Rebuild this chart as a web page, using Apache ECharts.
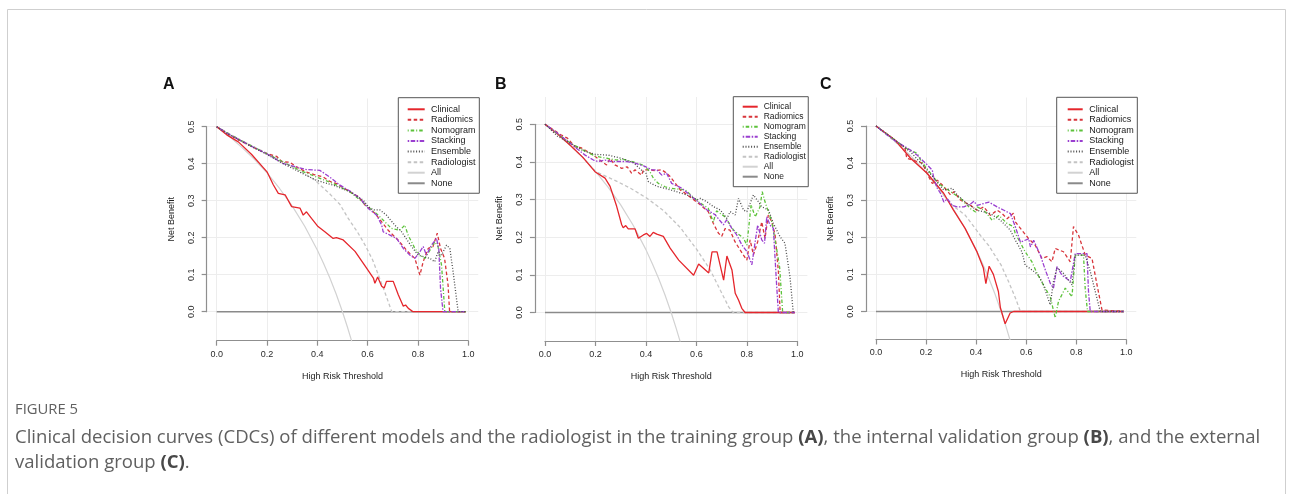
<!DOCTYPE html>
<html><head><meta charset="utf-8">
<script src="https://cdn.jsdelivr.net/npm/echarts@6/dist/echarts.min.js"></script>
<style>html,body{margin:0;padding:0;background:#fff;}#c{width:1293px;height:494px;}</style>
</head><body><div id="c"></div>
<script>
// ---------------- DATA ----------------
const seriesNames = ['Clinical','Radiomics','Nomogram','Stacking','Ensemble','Radiologist','All','None'];
const panelLabels = ['A','B','C'];
const xTickLabels = ['0.0','0.2','0.4','0.6','0.8','1.0'];
const yTickLabels = ['0.0','0.1','0.2','0.3','0.4','0.5'];
const xTitle = 'High Risk Threshold';
const yTitle = 'Net Benefit';

// shared reference curves
const allCurve = [[0,0.5],[0.05,0.474],[0.1,0.444],[0.15,0.412],[0.2,0.375],[0.25,0.333],[0.3,0.286],[0.35,0.231],[0.4,0.167],[0.425,0.13],[0.45,0.091],[0.475,0.048],[0.5,0],[0.52,-0.042],[0.54,-0.087]];
const noneCurve = [[0,0],[0.99,0]];

// Panel A (training)
const A_clinical = [[0,0.5],[0.04,0.478],[0.086,0.459],[0.139,0.425],[0.2,0.378],[0.225,0.343],[0.245,0.32],[0.272,0.316],[0.298,0.284],[0.331,0.28],[0.344,0.261],[0.357,0.27],[0.377,0.252],[0.403,0.23],[0.43,0.216],[0.463,0.198],[0.476,0.2],[0.503,0.194],[0.55,0.163],[0.596,0.118],[0.623,0.091],[0.629,0.077],[0.64,0.094],[0.656,0.069],[0.666,0.064],[0.675,0.082],[0.702,0.082],[0.722,0.046],[0.742,0.015],[0.751,0.018],[0.762,0.009],[0.781,0],[0.99,0]];
const A_radiomics = [[0,0.5],[0.05,0.478],[0.1,0.46],[0.15,0.443],[0.2,0.427],[0.238,0.42],[0.26,0.405],[0.291,0.404],[0.32,0.39],[0.358,0.377],[0.39,0.37],[0.424,0.364],[0.45,0.352],[0.477,0.346],[0.53,0.324],[0.55,0.316],[0.563,0.311],[0.57,0.315],[0.59,0.288],[0.629,0.266],[0.656,0.243],[0.682,0.22],[0.722,0.193],[0.755,0.166],[0.788,0.144],[0.808,0.099],[0.821,0.135],[0.841,0.171],[0.86,0.176],[0.877,0.212],[0.89,0.171],[0.906,0.144],[0.92,0.072],[0.926,0],[0.99,0]];
const A_nomogram = [[0,0.5],[0.05,0.48],[0.1,0.462],[0.15,0.444],[0.2,0.427],[0.265,0.404],[0.331,0.382],[0.397,0.364],[0.464,0.346],[0.53,0.324],[0.59,0.29],[0.642,0.261],[0.695,0.225],[0.728,0.22],[0.748,0.234],[0.761,0.207],[0.788,0.171],[0.808,0.153],[0.828,0.144],[0.848,0.166],[0.867,0.189],[0.88,0.176],[0.894,0.126],[0.907,0],[0.99,0]];
const A_stacking = [[0,0.5],[0.05,0.479],[0.1,0.461],[0.15,0.443],[0.199,0.427],[0.265,0.4],[0.318,0.391],[0.358,0.384],[0.41,0.382],[0.43,0.373],[0.457,0.36],[0.49,0.342],[0.53,0.326],[0.57,0.306],[0.603,0.279],[0.636,0.261],[0.656,0.234],[0.662,0.216],[0.689,0.207],[0.715,0.198],[0.742,0.171],[0.768,0.153],[0.788,0.144],[0.808,0.162],[0.821,0.176],[0.834,0.153],[0.854,0.18],[0.874,0.198],[0.883,0.171],[0.89,0.063],[0.9,0],[0.99,0]];
const A_ensemble = [[0,0.5],[0.05,0.478],[0.1,0.46],[0.15,0.442],[0.2,0.425],[0.265,0.4],[0.331,0.377],[0.397,0.355],[0.464,0.342],[0.53,0.324],[0.583,0.301],[0.603,0.284],[0.623,0.275],[0.649,0.275],[0.675,0.261],[0.708,0.234],[0.735,0.216],[0.775,0.176],[0.801,0.153],[0.828,0.148],[0.848,0.144],[0.867,0.135],[0.88,0.162],[0.894,0.153],[0.914,0.18],[0.927,0.171],[0.94,0.108],[0.96,0],[0.99,0]];
const A_radiologist = [[0,0.5],[0.1,0.462],[0.2,0.428],[0.29,0.396],[0.39,0.356],[0.45,0.318],[0.49,0.29],[0.523,0.252],[0.56,0.215],[0.59,0.18],[0.62,0.14],[0.643,0.099],[0.67,0.05],[0.696,0],[0.99,0]];

// Panel B (internal validation)
const B_clinical = [[0,0.5],[0.05,0.474],[0.1,0.444],[0.15,0.412],[0.198,0.374],[0.238,0.357],[0.258,0.335],[0.284,0.282],[0.304,0.233],[0.31,0.225],[0.32,0.231],[0.33,0.222],[0.357,0.222],[0.37,0.197],[0.39,0.206],[0.403,0.21],[0.416,0.202],[0.429,0.213],[0.443,0.208],[0.449,0.213],[0.469,0.202],[0.496,0.171],[0.53,0.139],[0.589,0.099],[0.609,0.129],[0.649,0.105],[0.662,0.161],[0.682,0.161],[0.708,0.086],[0.721,0.15],[0.741,0.113],[0.754,0.051],[0.767,0.033],[0.78,0.011],[0.793,0],[0.99,0]];
const B_radiomics = [[0,0.5],[0.063,0.472],[0.089,0.463],[0.119,0.44],[0.142,0.438],[0.192,0.418],[0.225,0.401],[0.244,0.392],[0.258,0.409],[0.277,0.392],[0.304,0.383],[0.326,0.387],[0.343,0.37],[0.357,0.379],[0.383,0.365],[0.39,0.379],[0.416,0.379],[0.436,0.377],[0.463,0.379],[0.482,0.37],[0.496,0.361],[0.537,0.325],[0.555,0.317],[0.608,0.29],[0.647,0.268],[0.667,0.237],[0.687,0.211],[0.7,0.202],[0.714,0.223],[0.733,0.219],[0.753,0.188],[0.786,0.153],[0.8,0.139],[0.813,0.193],[0.826,0.153],[0.843,0.188],[0.859,0.241],[0.872,0.197],[0.885,0.259],[0.899,0.241],[0.912,0.206],[0.925,0.109],[0.932,0],[0.99,0]];
const B_nomogram = [[0,0.5],[0.05,0.475],[0.1,0.45],[0.15,0.432],[0.2,0.415],[0.25,0.409],[0.284,0.405],[0.311,0.407],[0.35,0.4],[0.39,0.391],[0.416,0.374],[0.43,0.356],[0.449,0.343],[0.476,0.334],[0.496,0.33],[0.555,0.326],[0.608,0.294],[0.647,0.277],[0.667,0.24],[0.68,0.27],[0.714,0.254],[0.747,0.219],[0.787,0.197],[0.8,0.179],[0.817,0.286],[0.833,0.254],[0.852,0.28],[0.861,0.321],[0.872,0.294],[0.899,0.241],[0.918,0.17],[0.93,0.12],[0.942,0],[0.99,0]];
const B_stacking = [[0,0.5],[0.05,0.476],[0.092,0.454],[0.132,0.432],[0.159,0.418],[0.192,0.405],[0.211,0.401],[0.238,0.405],[0.264,0.401],[0.297,0.401],[0.324,0.401],[0.357,0.397],[0.396,0.388],[0.423,0.379],[0.443,0.379],[0.463,0.365],[0.482,0.37],[0.502,0.343],[0.542,0.33],[0.575,0.312],[0.608,0.293],[0.641,0.273],[0.674,0.26],[0.707,0.233],[0.72,0.246],[0.74,0.224],[0.76,0.206],[0.78,0.18],[0.8,0.162],[0.82,0.127],[0.833,0.188],[0.843,0.232],[0.859,0.193],[0.87,0.184],[0.879,0.254],[0.892,0.232],[0.905,0.224],[0.918,0.074],[0.925,0],[0.99,0]];
const B_ensemble = [[0,0.5],[0.05,0.468],[0.1,0.45],[0.15,0.43],[0.2,0.42],[0.25,0.418],[0.3,0.41],[0.35,0.398],[0.383,0.378],[0.4,0.37],[0.41,0.347],[0.432,0.339],[0.449,0.334],[0.497,0.326],[0.563,0.312],[0.603,0.299],[0.616,0.303],[0.642,0.294],[0.668,0.281],[0.695,0.272],[0.721,0.25],[0.734,0.268],[0.754,0.259],[0.767,0.303],[0.787,0.272],[0.8,0.268],[0.826,0.312],[0.846,0.294],[0.859,0.281],[0.886,0.272],[0.905,0.237],[0.932,0.201],[0.951,0.184],[0.971,0.095],[0.984,0],[0.99,0]];
const B_radiologist = [[0,0.5],[0.05,0.474],[0.1,0.444],[0.15,0.412],[0.201,0.374],[0.274,0.352],[0.339,0.33],[0.405,0.303],[0.471,0.27],[0.537,0.225],[0.603,0.166],[0.655,0.113],[0.695,0.059],[0.728,0.015],[0.745,0],[0.99,0]];

// Panel C (external validation)
const C_clinical = [[0,0.5],[0.076,0.462],[0.138,0.413],[0.205,0.372],[0.271,0.318],[0.309,0.274],[0.356,0.224],[0.404,0.16],[0.429,0.117],[0.439,0.075],[0.452,0.122],[0.469,0.1],[0.489,0.054],[0.497,0.01],[0.516,-0.033],[0.536,-0.004],[0.55,0],[0.99,0]];
const C_radiomics = [[0,0.5],[0.076,0.462],[0.116,0.44],[0.123,0.413],[0.165,0.404],[0.185,0.4],[0.211,0.363],[0.225,0.345],[0.245,0.354],[0.265,0.341],[0.298,0.314],[0.311,0.323],[0.338,0.3],[0.378,0.286],[0.404,0.273],[0.431,0.282],[0.457,0.259],[0.484,0.273],[0.504,0.264],[0.524,0.25],[0.549,0.265],[0.556,0.242],[0.609,0.197],[0.636,0.179],[0.663,0.143],[0.683,0.148],[0.703,0.134],[0.716,0.17],[0.749,0.161],[0.776,0.134],[0.789,0.229],[0.809,0.206],[0.836,0.152],[0.863,0.143],[0.883,0.072],[0.903,0.004],[0.91,0],[0.99,0]];
const C_nomogram = [[0,0.5],[0.076,0.462],[0.12,0.44],[0.165,0.426],[0.178,0.408],[0.198,0.39],[0.25,0.345],[0.298,0.323],[0.338,0.305],[0.378,0.277],[0.398,0.268],[0.404,0.282],[0.431,0.273],[0.464,0.246],[0.491,0.259],[0.524,0.237],[0.549,0.229],[0.556,0.211],[0.596,0.161],[0.623,0.134],[0.644,0.102],[0.676,0.063],[0.696,0.04],[0.716,-0.017],[0.729,0.027],[0.756,0.063],[0.783,0.04],[0.796,0.152],[0.829,0.152],[0.836,0.06],[0.845,0],[0.99,0]];
const C_stacking = [[0,0.5],[0.072,0.462],[0.138,0.435],[0.165,0.421],[0.205,0.395],[0.225,0.381],[0.231,0.359],[0.245,0.332],[0.258,0.318],[0.271,0.295],[0.285,0.304],[0.305,0.286],[0.324,0.282],[0.351,0.282],[0.378,0.29],[0.391,0.297],[0.404,0.286],[0.431,0.291],[0.451,0.295],[0.484,0.282],[0.511,0.273],[0.537,0.264],[0.557,0.228],[0.577,0.187],[0.61,0.196],[0.617,0.174],[0.63,0.192],[0.657,0.151],[0.677,0.111],[0.697,0.075],[0.709,0.063],[0.723,0.121],[0.743,0.098],[0.776,0.081],[0.796,0.156],[0.843,0.156],[0.849,0.053],[0.856,0],[0.99,0]];
const C_ensemble = [[0,0.5],[0.076,0.462],[0.138,0.43],[0.2,0.385],[0.271,0.327],[0.305,0.332],[0.324,0.314],[0.364,0.291],[0.404,0.273],[0.457,0.264],[0.497,0.246],[0.537,0.219],[0.557,0.192],[0.583,0.161],[0.596,0.125],[0.623,0.112],[0.649,0.098],[0.669,0.072],[0.696,0.018],[0.709,0.081],[0.723,0.117],[0.743,0.108],[0.763,0.09],[0.783,0.072],[0.796,0.152],[0.836,0.152],[0.856,0.108],[0.876,0.054],[0.896,0],[0.99,0]];
const C_radiologist = [[0,0.5],[0.1,0.444],[0.2,0.375],[0.259,0.323],[0.3,0.289],[0.356,0.26],[0.423,0.2],[0.45,0.178],[0.5,0.125],[0.53,0.08],[0.555,0.04],[0.577,0],[0.99,0]];

const captionHead = 'FIGURE 5';
const captionLine1 = 'Clinical decision curves (CDCs) of different models and the radiologist in the training group {b|(A)}, the internal validation group {b|(B)}, and the external';
const captionLine2 = 'validation group {b|(C)}.';

// ---------------- LAYOUT / STYLE ----------------
const panelData = [
  {Clinical:A_clinical, Radiomics:A_radiomics, Nomogram:A_nomogram, Stacking:A_stacking, Ensemble:A_ensemble, Radiologist:A_radiologist, All:allCurve, None:noneCurve},
  {Clinical:B_clinical, Radiomics:B_radiomics, Nomogram:B_nomogram, Stacking:B_stacking, Ensemble:B_ensemble, Radiologist:B_radiologist, All:allCurve, None:noneCurve},
  {Clinical:C_clinical, Radiomics:C_radiomics, Nomogram:C_nomogram, Stacking:C_stacking, Ensemble:C_ensemble, Radiologist:C_radiologist, All:allCurve, None:noneCurve}
];
const layout = [
  {x0:216.7, xs:251.5, yz:311.7, ys:370, top:98.5, bottom:340.7, labelX:163,
   lg:{left:398.3, top:97.7, pad:[6.3,3.8,4.7,8.4], iw:17, ih:10.57, fs:9, tp:1.3}},
  {x0:545, xs:252.3, yz:312.5, ys:376.5, top:97, bottom:341, labelX:495,
   lg:{left:733.3, top:96.7, pad:[5,2.5,5,8.4], iw:15, ih:10, fs:8.5, tp:1}},
  {x0:876, xs:250.3, yz:311.5, ys:371, top:97.5, bottom:339.5, labelX:820,
   lg:{left:1056.7, top:97.3, pad:[6.7,3.5,4.7,10], iw:15, ih:10.57, fs:9, tp:1.6}}
];
const styleMap = {
  Clinical:   {color:'#e5262c', type:'solid', width:1.3, z:6},
  Radiomics:  {color:'#d8353b', type:[3.5,2.5], width:1.3, z:7},
  Nomogram:   {color:'#5cc23a', type:[1,2,3.5,2], width:1.3, z:8},
  Stacking:   {color:'#9a3fd0', type:[1.5,1.5,4.5,1.5], width:1.3, z:9},
  Ensemble:   {color:'#4a4a4a', type:[1,1.8], width:1.3, z:10},
  Radiologist:{color:'#c4c4c4', type:[3.5,2.5], width:1.3, z:4},
  All:        {color:'#d2d2d2', type:'solid', width:1.2, z:3},
  None:       {color:'#8a8a8a', type:'solid', width:1.5, z:2}
};
const FONT = 'Liberation Sans, Arial, sans-serif';
const AXIS_COLOR = '#8f8f8f';
const GRID_COLOR = '#ededed';

const grid=[], xAxis=[], yAxis=[], series=[], legend=[], graphic=[];
layout.forEach((p,i)=>{
  const L = p.x0 - 0.04*p.xs, W = 1.08*p.xs, H = p.bottom - p.top;
  const ymin = -(p.bottom - p.yz)/p.ys, ymax = (p.yz - p.top)/p.ys;
  grid.push({left:L, top:p.top, width:W, height:H});
  xAxis.push({type:'value', gridIndex:3*i, min:-0.04, max:1.04, show:false});
  yAxis.push({type:'value', gridIndex:3*i, min:ymin, max:ymax, show:false});
  grid.push({left:p.x0, top:p.top, width:p.xs, height:H});
  xAxis.push({type:'value', gridIndex:3*i+1, min:0, max:1, interval:0.2, position:'bottom',
    axisLine:{show:true, onZero:false, lineStyle:{color:AXIS_COLOR, width:1.2}},
    axisTick:{show:true, length:5, lineStyle:{color:AXIS_COLOR, width:1.2}},
    axisLabel:{fontSize:9, fontFamily:FONT, color:'#2a2a2a', margin:9,
      formatter:v=>xTickLabels[Math.round(v*5)]},
    splitLine:{show:true, lineStyle:{color:GRID_COLOR, width:1}},
    name:xTitle, nameLocation:'middle', nameGap:31,
    nameTextStyle:{fontSize:9, fontFamily:FONT, color:'#222'}});
  yAxis.push({type:'value', gridIndex:3*i+1, min:0, max:1, show:false});
  grid.push({left:L, top:p.yz - 0.5*p.ys, width:W, height:0.5*p.ys});
  xAxis.push({type:'value', gridIndex:3*i+2, min:0, max:1, show:false});
  yAxis.push({type:'value', gridIndex:3*i+2, min:0, max:0.5, interval:0.1,
    axisLine:{show:true, onZero:false, lineStyle:{color:AXIS_COLOR, width:1.2}},
    axisTick:{show:true, length:5, lineStyle:{color:AXIS_COLOR, width:1.2}},
    axisLabel:{rotate:90, fontSize:9, fontFamily:FONT, color:'#2a2a2a', margin:11,
      formatter:v=>yTickLabels[Math.round(v*10)]},
    splitLine:{show:true, lineStyle:{color:GRID_COLOR, width:1}},
    name:yTitle, nameLocation:'middle', nameGap:31, nameRotate:90,
    nameTextStyle:{fontSize:9, fontFamily:FONT, color:'#222'}});
  seriesNames.forEach(n=>{
    const s = styleMap[n];
    series.push({type:'line', name:n, xAxisIndex:3*i, yAxisIndex:3*i, data:panelData[i][n],
      symbol:'none', showSymbol:false, clip:true, animation:false, silent:true, z:s.z,
      lineStyle:{color:s.color, type:s.type, width:s.width}, itemStyle:{color:s.color}});
  });
  const g = p.lg;
  legend.push({data:seriesNames, orient:'vertical', left:g.left, top:g.top, padding:g.pad,
    itemGap:0, itemWidth:g.iw, itemHeight:g.ih, selectedMode:false,
    itemStyle:{opacity:0, color:'rgba(0,0,0,0)', borderWidth:0, borderColor:'rgba(0,0,0,0)'},
    borderColor:'#555', borderWidth:1, backgroundColor:'#fff', borderRadius:0,
    textStyle:{fontSize:g.fs, fontFamily:FONT, color:'#1a1a1a', padding:[0,0,0,g.tp], lineHeight:g.ih}});
  graphic.push({type:'text', left:p.labelX, top:77, style:{text:panelLabels[i], font:'bold 16px '+FONT, fill:'#111'}});
});

graphic.push({type:'rect', shape:{x:7.5, y:9.5, width:1278, height:600}, style:{fill:'none', stroke:'#cfcfcf', lineWidth:1}, z:-1});

// fit caption font sizes to the reference text widths
const CAP_FAMILY = '"Open Sans", "Noto Sans", sans-serif';
const cv = document.createElement('canvas').getContext('2d');
function fitSize(txt, target, weight){
  cv.font = (weight||'') + ' 100px ' + CAP_FAMILY;
  return 100 * target / cv.measureText(txt).width;
}
const plain1 = captionLine1.replace(/\{b\|([^}]*)\}/g,'$1');
const capSize = Math.min(19, fitSize(plain1, 1242));
const headSize = Math.min(16, fitSize(captionHead, 63));
const CAP_COLOR = '#606060';
graphic.push({type:'text', left:15, top:412 - headSize*0.68, style:{text:captionHead, font:headSize.toFixed(2)+'px '+CAP_FAMILY, fill:CAP_COLOR}});
graphic.push({type:'text', left:15, top:441 - capSize*0.68, style:{text:captionLine1, font:capSize.toFixed(2)+'px '+CAP_FAMILY, fill:CAP_COLOR,
  rich:{b:{font:'bold '+capSize.toFixed(2)+'px '+CAP_FAMILY, fill:'#484848'}}}});
graphic.push({type:'text', left:15, top:466 - capSize*0.68, style:{text:captionLine2, font:capSize.toFixed(2)+'px '+CAP_FAMILY, fill:CAP_COLOR,
  rich:{b:{font:'bold '+capSize.toFixed(2)+'px '+CAP_FAMILY, fill:'#484848'}}}});

const chart = echarts.init(document.getElementById('c'), null, {renderer:'canvas'});
chart.setOption({backgroundColor:'#fff', animation:false, grid, xAxis, yAxis, series, legend, graphic});
</script>
</body></html>
